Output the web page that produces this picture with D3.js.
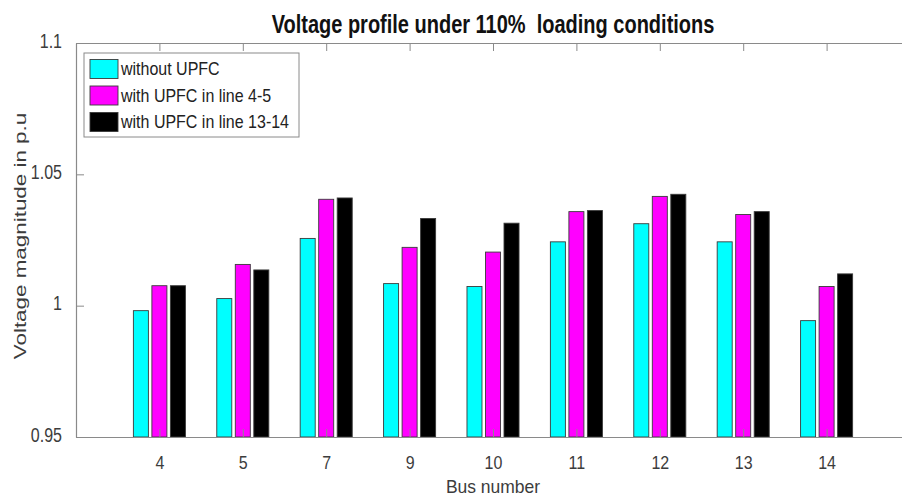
<!DOCTYPE html>
<html><head><meta charset="utf-8">
<script src="https://cdn.jsdelivr.net/npm/d3@7"></script>
<style>
html,body{margin:0;padding:0;background:#fff;}
svg{display:block;font-family:"Liberation Sans",Arial,sans-serif;}
</style></head>
<body><svg id="c" width="902" height="497"></svg>
<script>
const buses = ["4","5","7","9","10","11","12","13","14"];
const seriesNames = ["without UPFC","with UPFC in line 4-5","with UPFC in line 13-14"];
const seriesColors = ["#00ffff","#ff00ff","#000000"];
const withoutUPFC = [0.9981,1.0027,1.0256,1.0084,1.0073,1.0243,1.0312,1.0243,0.9943];
const upfc45 = [1.0076,1.0157,1.0405,1.0222,1.0204,1.0358,1.0416,1.0347,1.0073];
const upfc1314 = [1.0076,1.0136,1.0410,1.0332,1.0314,1.0362,1.0424,1.0358,1.0121];
const yTicks = [0.95,1,1.05,1.1];
const yTickLabels = ["0.95","1","1.05","1.1"];
const series = [withoutUPFC, upfc45, upfc1314];

const svg = d3.select("#c");
const L = 76, R = 910, T = 43, B = 437;
const S = 1.25; // vertical text stretch
const x = d3.scaleLinear().domain([0,10]).range([L,R]);
const y = d3.scaleLinear().domain([0.95,1.1]).range([B,T]);
const groupStep = x(1)-x(0);
const barW = groupStep*0.18, off = groupStep*0.222;

series.forEach((vals,si)=>{
  svg.append("g").selectAll("rect").data(vals).join("rect")
    .attr("x",(d,i)=>x(i+1)+(si-1)*off-barW/2)
    .attr("width",barW)
    .attr("y",d=>y(d))
    .attr("height",d=>y(0.95)-y(d))
    .attr("fill",seriesColors[si])
    .attr("stroke","#3a3a3a").attr("stroke-width",0.9);
});

const axColor = "#8a8a8a";
const tl = 8;
const xb = svg.append("g").attr("transform",`translate(0,${B})`)
  .call(d3.axisBottom(x).tickValues(d3.range(1,10)).tickFormat((d)=>buses[d-1]).tickSizeInner(-tl).tickSizeOuter(0));
const xt = svg.append("g").attr("transform",`translate(0,${T})`)
  .call(d3.axisTop(x).tickValues(d3.range(1,10)).tickFormat("").tickSizeInner(-tl).tickSizeOuter(0));
const yl = svg.append("g").attr("transform",`translate(${L},0)`)
  .call(d3.axisLeft(y).tickValues(yTicks).tickFormat((d,i)=>yTickLabels[i]).tickSizeInner(-tl).tickSizeOuter(0).tickPadding(14));
const yr = svg.append("g").attr("transform",`translate(${R},0)`)
  .call(d3.axisRight(y).tickValues(yTicks).tickFormat("").tickSizeInner(-tl).tickSizeOuter(0));
[xb,xt,yl,yr].forEach(g=>{
  g.selectAll(".domain").attr("stroke",axColor).attr("stroke-width",1.2);
  g.selectAll(".tick line").attr("stroke",axColor).attr("stroke-width",1);
  g.selectAll("text").attr("fill","#3c3c3c").attr("font-size",16).attr("font-family","Liberation Sans, Arial, sans-serif");
});
xb.selectAll("text").attr("y",32/1.2).attr("dy",0).attr("transform",`scale(1,1.2)`);
yl.selectAll("text").attr("dy","0.2em").attr("transform",`scale(1,${S})`);

function stretched(xp,yp,size,txt,opts={}){
  const t = svg.append("text").attr("transform",`translate(${xp},${yp}) scale(1,${opts.s||S})`)
    .attr("text-anchor",opts.anchor||"middle").attr("font-size",size)
    .attr("fill",opts.fill||"#3c3c3c").style("white-space","pre").text(txt);
  if(opts.bold) t.attr("font-weight","bold");
  return t;
}
stretched((L+R)/2,33,20,"Voltage profile under 110%  loading conditions",{bold:true,fill:"#111"});
stretched((L+R)/2,493,17.5,"Bus number",{s:1.1});
svg.append("text").attr("transform",`translate(26,236) rotate(-90) scale(1.4,1)`).attr("text-anchor","middle")
  .attr("font-size",16).attr("fill","#3c3c3c").text("Voltage magnitude in p.u");

const lg = svg.append("g");
lg.append("rect").attr("x",84).attr("y",53).attr("width",215).attr("height",84)
  .attr("fill","#fff").attr("stroke","#8a8a8a").attr("stroke-width",1);
seriesNames.forEach((n,i)=>{
  const cy = 69 + i*26.5;
  lg.append("rect").attr("x",90).attr("y",cy-9.5).attr("width",28).attr("height",19)
    .attr("fill",seriesColors[i]).attr("stroke","#3a3a3a").attr("stroke-width",0.9);
  lg.append("text").attr("transform",`translate(121,${cy+6}) scale(1,1.15)`).attr("font-size",16).attr("fill","#222").text(n);
});
</script></body></html>
